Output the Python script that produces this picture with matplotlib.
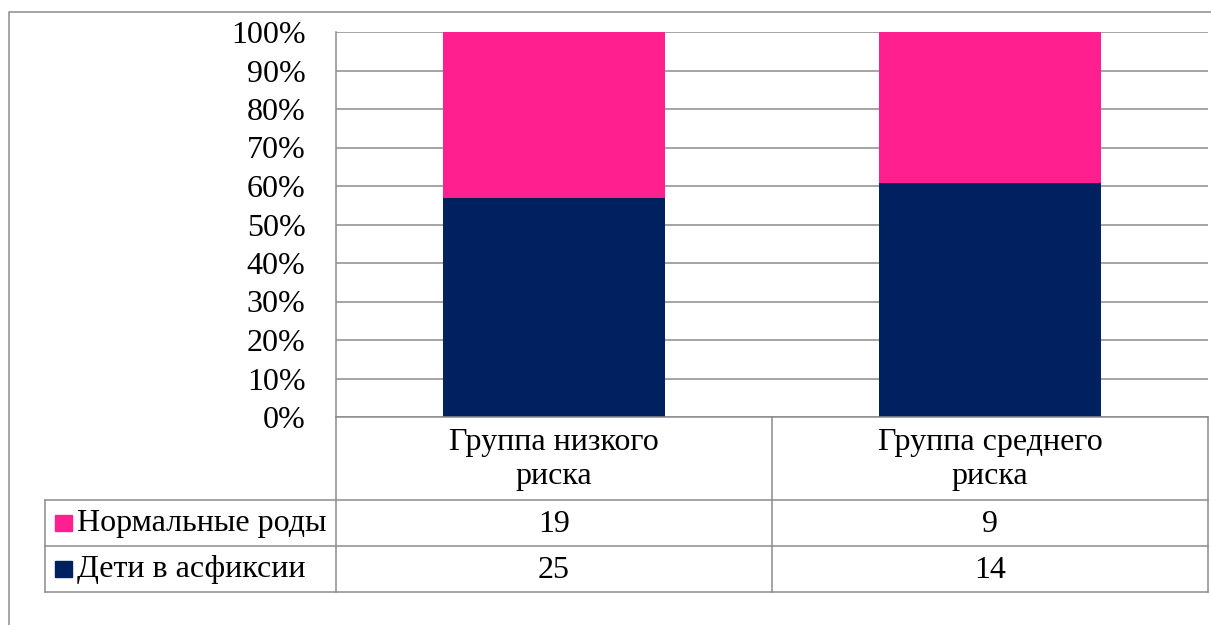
import numpy as np
import matplotlib.pyplot as plt
from matplotlib.patches import Rectangle

groups = ['Группа низкого\nриска', 'Группа среднего\nриска']
series_names = ['Дети в асфиксии', 'Нормальные роды']
asphyxia = [25, 14]
normal = [19, 9]
colors = ['#002060', '#FF1F8E']

W, H = 1211, 625
plt.rcParams['font.family'] = ['Liberation Serif', 'DejaVu Serif']
fs = 23
grid_c = '#8c8c8c'

fig = plt.figure(figsize=(W / 100, H / 100), dpi=100)


def fx(px):
    return px / W


def fy(py):
    return 1 - py / H


# plot area
left, right, top, bottom = 336, 1208, 32, 417
ax = fig.add_axes([fx(left), fy(bottom), fx(right - left), (bottom - top) / H])

vals = np.array([asphyxia, normal], dtype=float)
pct = vals / vals.sum(axis=0) * 100
x = np.arange(len(groups))
base = np.zeros(len(groups))
for i in range(len(series_names)):
    ax.bar(x, pct[i], bottom=base, width=0.51, color=colors[i], zorder=3)
    base += pct[i]

ax.set_xlim(-0.5, len(groups) - 0.5)
ax.set_ylim(0, 100)
ax.set_yticks(range(0, 101, 10))
ax.set_yticklabels([f'{v}%' for v in range(0, 101, 10)], fontsize=fs)
ax.set_xticks([])
ax.tick_params(axis='y', length=0, pad=22)
ax.yaxis.grid(True, color=grid_c, linewidth=1.1)
for s in ['top', 'right', 'bottom']:
    ax.spines[s].set_visible(False)
ax.spines['left'].set_color(grid_c)
ax.spines['left'].set_linewidth(1.1)

# data table below
tbl_left, hdr_bottom = 45, 500
row_h = 46
col_w = (right - left) / len(groups)
tr = fig.transFigure


def hline(x0, x1, y):
    fig.add_artist(plt.Line2D([fx(x0), fx(x1)], [fy(y), fy(y)], color=grid_c, lw=1.1, transform=tr))


def vline(x0, y0, y1):
    fig.add_artist(plt.Line2D([fx(x0), fx(x0)], [fy(y0), fy(y1)], color=grid_c, lw=1.1, transform=tr))


hline(left, right, bottom)
for r in range(len(series_names) + 1):
    hline(tbl_left, right, hdr_bottom + r * row_h)
vline(tbl_left, hdr_bottom, hdr_bottom + 2 * row_h)
for c in range(len(groups) + 1):
    vline(left + c * col_w, bottom, hdr_bottom + 2 * row_h)

for c, g in enumerate(groups):
    fig.text(fx(left + (c + 0.5) * col_w), fy((bottom + hdr_bottom) / 2 + 1), g,
             ha='center', va='center', fontsize=fs, linespacing=1.25)

# rows: normal on top, asphyxia below
row_order = [1, 0]
for r, si in enumerate(row_order):
    yc = hdr_bottom + (r + 0.5) * row_h
    fig.add_artist(Rectangle((fx(55), fy(yc + 8)), fx(17), 16 / H, color=colors[si], transform=tr))
    fig.text(fx(77), fy(yc + 1), series_names[si], ha='left', va='center', fontsize=fs)
    for c in range(len(groups)):
        fig.text(fx(left + (c + 0.5) * col_w), fy(yc + 1), str(int(vals[si][c])),
                 ha='center', va='center', fontsize=fs)

# outer chart border
fig.add_artist(Rectangle((fx(9), fy(H + 5)), fx(W), (H - 7) / H, fill=False,
                         edgecolor=grid_c, lw=1.1, transform=tr))

fig.savefig('out.png', dpi=100)
